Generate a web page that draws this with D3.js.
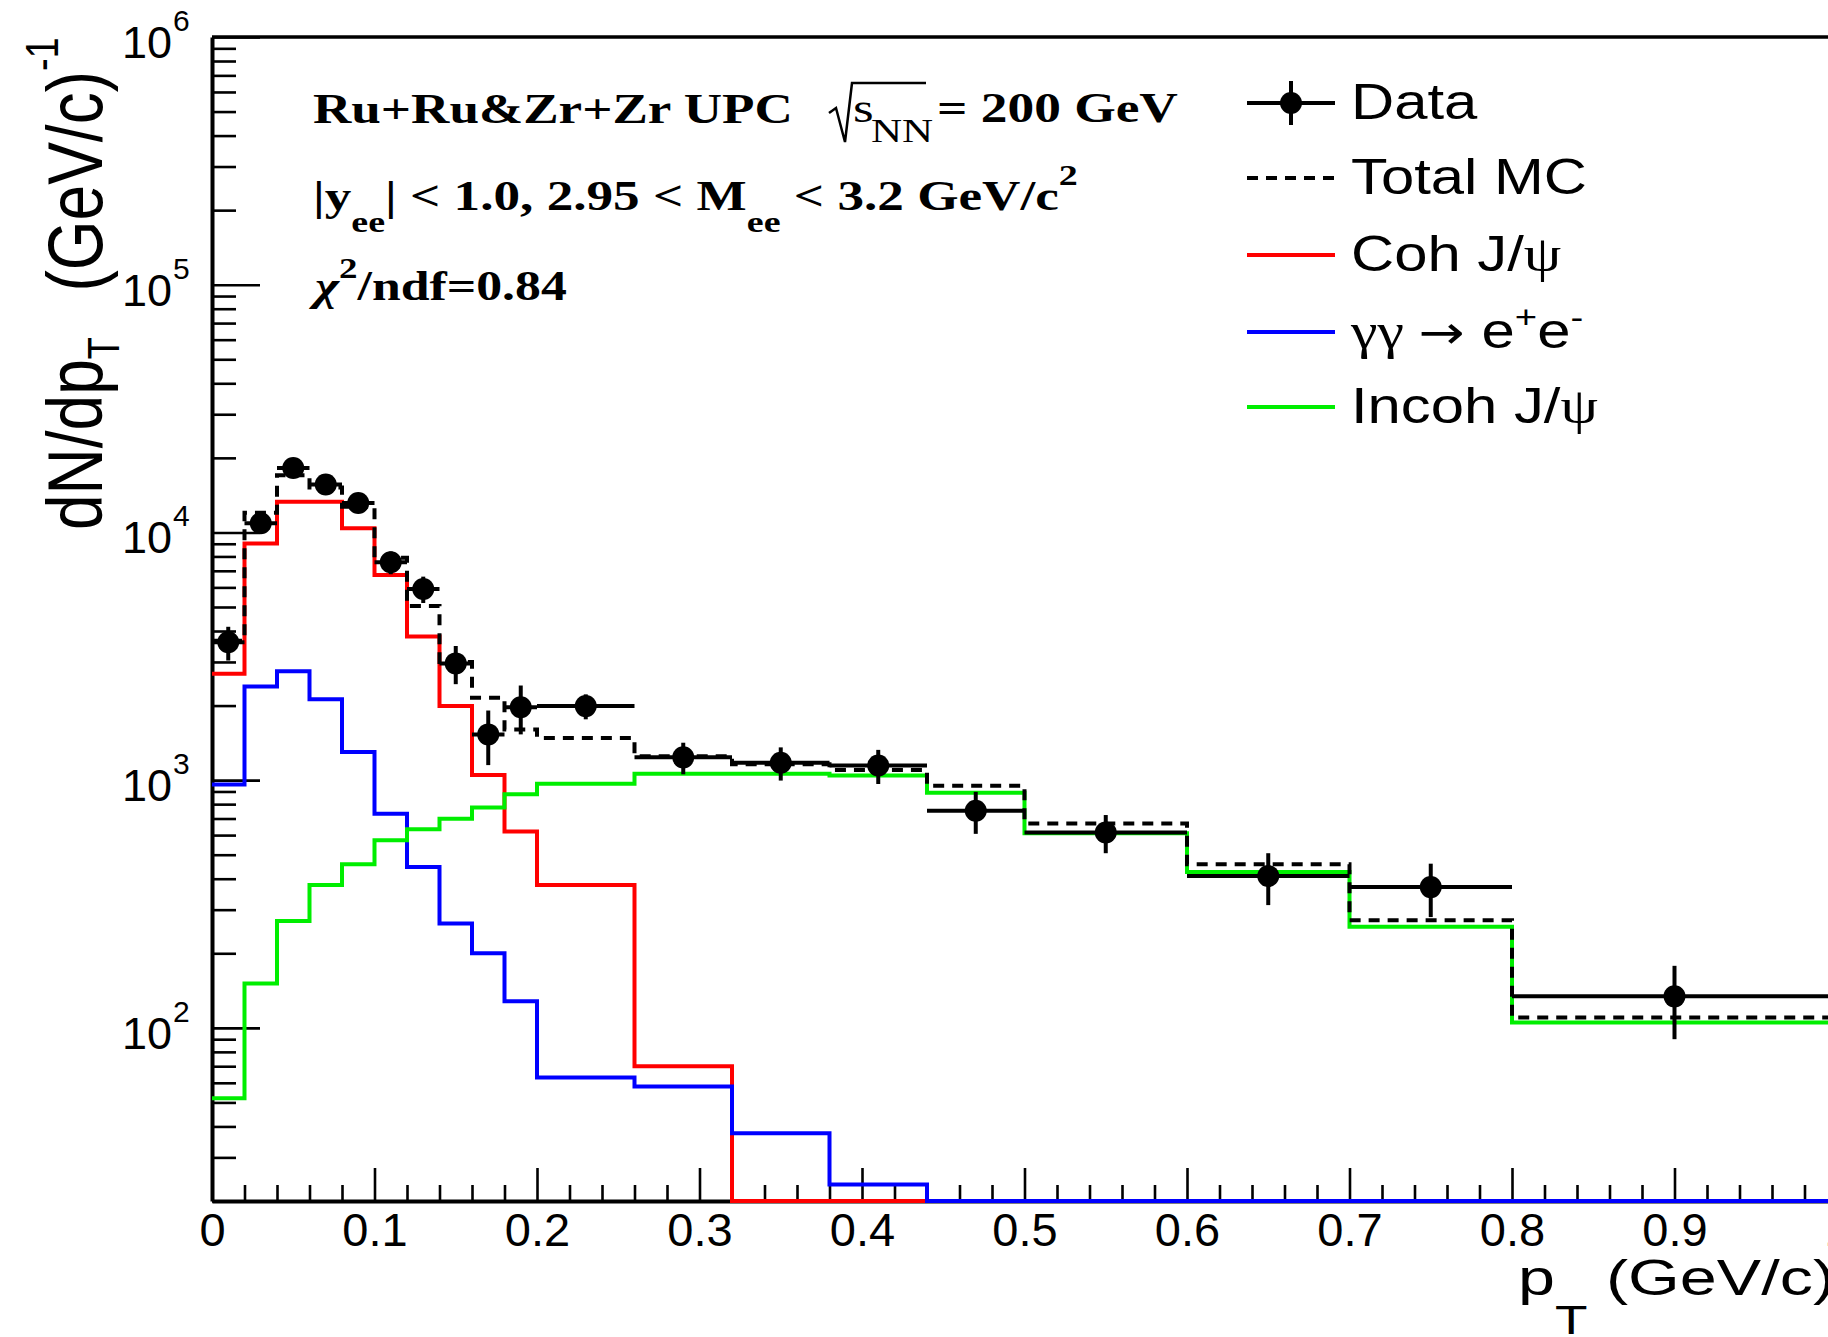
<!DOCTYPE html>
<html>
<head>
<meta charset="utf-8">
<script src="https://cdn.jsdelivr.net/npm/d3@7"></script>
<style>
  body { margin: 0; background: #fff; }
  svg { display: block; background: #fff; }
</style>
</head>
<body>
<svg id="chart" width="1828" height="1337"></svg>
<script>
// bin edges in pT (GeV/c)
var binEdges = [0, 0.02, 0.04, 0.06, 0.08, 0.1, 0.12, 0.14, 0.16, 0.18, 0.2,
                0.26, 0.32, 0.38, 0.44, 0.5, 0.6, 0.7, 0.8, 1.0];

// MC templates, one value per bin (0 = empty bin)
var cohJpsi    = [2690, 9020, 13300, 13300, 10400, 6730, 3800, 1990, 1050, 620,
                  377, 70, 0, 0, 0, 0, 0, 0, 0];
var gammaGamma = [960, 2390, 2750, 2120, 1300, 731, 446, 264, 200, 128,
                  63, 58, 37.5, 23.3, 0, 0, 0, 0, 0];
var incohJpsi  = [52, 151, 270, 377, 458, 572, 634, 699, 775, 877,
                  968, 1062, 1062, 1045, 890, 610, 426, 256, 105];
var totalMC    = [3650, 12000, 17000, 15200, 12700, 7900, 5050, 3000, 2150, 1600,
                  1480, 1250, 1160, 1100, 950, 668, 458, 272, 110];

// measured points
var dataValues = [3600, 10900, 18200, 15600, 13150, 7580, 5910, 2960, 1530, 1970,
                  1990, 1236, 1176, 1145, 752, 615, 410, 370, 134];
var dataErrors = [560, 950, 1250, 1150, 1050, 800, 720, 520, 380, 440,
                  230, 180, 180, 180, 145, 108, 97, 90, 44];

var xTickLabels = ["0", "0.1", "0.2", "0.3", "0.4", "0.5", "0.6", "0.7", "0.8", "0.9", "1"];
var yTickPowers = [2, 3, 4, 5, 6];

var SANS = "'Liberation Sans', Arial, Helvetica, sans-serif";
var SERIF = "'Liberation Serif', 'Times New Roman', serif";

var padL = 212, padR = 1837, padT = 37, padB = 1201;

var svg = d3.select("#chart");

var x = d3.scaleLinear().domain([0, 1]).range([padL, padR]);
var y = d3.scaleLog().domain([20, 1e6]).range([padB, padT]);

// ---------- axes ----------
var xMinor = d3.range(0, 51).map(function(i) { return i * 0.02; })
    .filter(function(v, i) { return i % 5 !== 0; });

svg.append("g")
    .attr("transform", "translate(0," + padB + ")")
    .call(d3.axisBottom(x).tickValues(xMinor).tickSize(-16).tickSizeOuter(0).tickFormat(""))
    .call(function(g) { g.select(".domain").remove(); });

var xAxis = svg.append("g")
    .attr("transform", "translate(0," + padB + ")")
    .call(d3.axisBottom(x)
        .tickValues(xTickLabels.map(Number))
        .tickSize(-33)
        .tickSizeOuter(0)
        .tickFormat(function(d, i) { return xTickLabels[i]; }));

xAxis.selectAll("text")
    .attr("y", 45)
    .attr("dy", null)
    .attr("font-family", SANS)
    .attr("font-size", 47)
    .attr("fill", "#000");

var yMinor = [];
for (var p = 1; p < 6; p++) {
    for (var m = 2; m <= 9; m++) {
        var v = m * Math.pow(10, p);
        if (v >= 20 && v <= 1e6) yMinor.push(v);
    }
}

svg.append("g")
    .attr("transform", "translate(" + padL + ",0)")
    .call(d3.axisLeft(y).tickValues(yMinor).tickSize(-24).tickSizeOuter(0).tickFormat(""))
    .call(function(g) { g.select(".domain").remove(); });

var yAxis = svg.append("g")
    .attr("transform", "translate(" + padL + ",0)")
    .call(d3.axisLeft(y)
        .tickValues(yTickPowers.map(function(p) { return Math.pow(10, p); }))
        .tickSize(-48)
        .tickSizeOuter(0)
        .tickFormat(""));

svg.selectAll(".tick line").attr("stroke", "#000").attr("stroke-width", 2.6);
svg.selectAll(".domain").attr("stroke", "#000").attr("stroke-width", 4);

// top frame
svg.append("line")
    .attr("x1", padL).attr("x2", padR)
    .attr("y1", padT).attr("y2", padT)
    .attr("stroke", "#000").attr("stroke-width", 3.5);

// y tick labels 10^n
var yLab = svg.append("g").attr("font-family", SANS).attr("fill", "#000");
yTickPowers.forEach(function(p) {
    var ty = y(Math.pow(10, p));
    yLab.append("text")
        .attr("x", 172).attr("y", ty + 21)
        .attr("text-anchor", "end")
        .attr("font-size", 45)
        .text("10");
    yLab.append("text")
        .attr("x", 173).attr("y", ty - 6)
        .attr("font-size", 30)
        .text(p);
});

// ---------- histograms ----------
svg.append("defs").append("clipPath").attr("id", "plotClip")
    .append("rect")
    .attr("x", padL).attr("y", padT - 2)
    .attr("width", padR - padL).attr("height", padB - padT + 5);

var stepLine = d3.line()
    .x(function(d) { return x(d[0]); })
    .y(function(d) { return y(Math.max(d[1], 20)); })
    .curve(d3.curveStepAfter);

function histPoints(vals) {
    var pts = vals.map(function(v, i) { return [binEdges[i], v]; });
    pts.push([binEdges[binEdges.length - 1], vals[vals.length - 1]]);
    return pts;
}

var plot = svg.append("g").attr("clip-path", "url(#plotClip)");

var coh = { vals: cohJpsi, color: "#ff0000", dash: null };
var gg = { vals: gammaGamma, color: "#0000ff", dash: null };
var inc = { vals: incohJpsi, color: "#00ee00", dash: null };
var tot = { vals: totalMC, color: "#000000", dash: "11,8" };

[coh, gg, inc, tot].forEach(function(s) {
    plot.append("path")
        .datum(histPoints(s.vals))
        .attr("d", stepLine)
        .attr("fill", "none")
        .attr("stroke", s.color)
        .attr("stroke-width", 4)
        .attr("stroke-dasharray", s.dash);
});

// ---------- data points ----------
var pts = dataValues.map(function(v, i) {
    return { lo: binEdges[i], hi: binEdges[i + 1], v: v, e: dataErrors[i] };
});

var dg = plot.append("g").attr("stroke", "#000").attr("stroke-width", 4);
dg.selectAll("line.h").data(pts).enter().append("line")
    .attr("x1", function(d) { return x(d.lo); })
    .attr("x2", function(d) { return x(d.hi); })
    .attr("y1", function(d) { return y(d.v); })
    .attr("y2", function(d) { return y(d.v); });
dg.selectAll("line.v").data(pts).enter().append("line")
    .attr("x1", function(d) { return x((d.lo + d.hi) / 2); })
    .attr("x2", function(d) { return x((d.lo + d.hi) / 2); })
    .attr("y1", function(d) { return y(d.v - d.e); })
    .attr("y2", function(d) { return y(d.v + d.e); });
plot.selectAll("circle.pt").data(pts).enter().append("circle")
    .attr("cx", function(d) { return x((d.lo + d.hi) / 2); })
    .attr("cy", function(d) { return y(d.v); })
    .attr("r", 11)
    .attr("fill", "#000");

// ---------- text helpers ----------
function fitWidth(sel, x0, target) {
    var w = sel.node().getBBox().width;
    var k = target / w;
    sel.attr("transform", "translate(" + x0 + ",0) scale(" + k + ",1)");
    return k;
}

// ---------- annotation (Times bold) ----------
var ann = svg.append("g").attr("font-family", SERIF).attr("fill", "#000");

var l1 = ann.append("text").attr("y", 123).attr("font-size", 42).attr("font-weight", "bold")
    .text("Ru+Ru&Zr+Zr UPC");
var kT = fitWidth(l1, 313, 480);

ann.append("path")
    .attr("d", "M829,113 L836,108 L845,142 L852,83 L926,83")
    .attr("fill", "none").attr("stroke", "#000").attr("stroke-width", 2.5);
ann.append("text").attr("y", 122).attr("font-size", 42)
    .attr("transform", "translate(853,0) scale(" + kT + ",1)").text("s");
ann.append("text").attr("y", 142).attr("font-size", 34)
    .attr("transform", "translate(871,0) scale(" + kT + ",1)").text("NN");
var l1b = ann.append("text").attr("y", 122).attr("font-size", 42).attr("font-weight", "bold")
    .text("= 200 GeV");
fitWidth(l1b, 937, 241);

var l2 = ann.append("text").attr("y", 210).attr("font-size", 42).attr("font-weight", "bold");
l2.append("tspan").text("|y");
l2.append("tspan").attr("font-size", 30).attr("dy", 22).text("ee");
l2.append("tspan").attr("dy", -22).text("| < 1.0, 2.95 < M");
l2.append("tspan").attr("font-size", 30).attr("dy", 22).text("ee");
l2.append("tspan").attr("dy", -22).text(" < 3.2 GeV/c");
l2.append("tspan").attr("font-size", 30).attr("dy", -25).text("2");
fitWidth(l2, 313, 765);

var l3 = ann.append("text").attr("y", 300).attr("font-size", 42).attr("font-weight", "bold");
l3.append("tspan").attr("font-style", "italic").text("\u03C7");
l3.append("tspan").attr("font-size", 30).attr("dy", -22).text("2");
l3.append("tspan").attr("dy", 22).text("/ndf=0.84");
fitWidth(l3, 315, 258);

// ---------- legend ----------
var legX1 = 1247, legX2 = 1335, legTextX = 1351;
var legY = [103, 178, 255, 332, 407];
var leg = svg.append("g");

leg.append("line").attr("x1", legX1).attr("x2", legX2).attr("y1", legY[0]).attr("y2", legY[0])
    .attr("stroke", "#000").attr("stroke-width", 4);
leg.append("line").attr("x1", (legX1 + legX2) / 2).attr("x2", (legX1 + legX2) / 2)
    .attr("y1", legY[0] - 22).attr("y2", legY[0] + 22)
    .attr("stroke", "#000").attr("stroke-width", 4);
leg.append("circle").attr("cx", (legX1 + legX2) / 2).attr("cy", legY[0]).attr("r", 11).attr("fill", "#000");

[tot, coh, gg, inc].forEach(function(s, i) {
    leg.append("line").attr("x1", legX1).attr("x2", legX2)
        .attr("y1", legY[i + 1]).attr("y2", legY[i + 1])
        .attr("stroke", s.color).attr("stroke-width", 4)
        .attr("stroke-dasharray", s.dash);
});

var legText = leg.append("g").attr("font-family", SANS).attr("font-size", 50).attr("fill", "#000");
var tTotal = legText.append("text").attr("y", legY[1] + 16).text("Total MC");
var kL = fitWidth(tTotal, legTextX, 236);
function legLabel(i) {
    return legText.append("text").attr("y", legY[i] + 16)
        .attr("transform", "translate(" + legTextX + ",0) scale(" + kL + ",1)");
}
legLabel(0).text("Data");
var tCoh = legLabel(2);
tCoh.append("tspan").text("Coh J/");
tCoh.append("tspan").attr("font-family", SERIF).text("\u03C8");
var tGG = legLabel(3);
tGG.append("tspan").attr("font-family", SERIF).text("\u03B3\u03B3 ");
tGG.append("tspan").attr("font-family", "'DejaVu Sans', sans-serif").attr("font-size", 46).text("\u2192");
tGG.append("tspan").text(" e");
tGG.append("tspan").attr("font-size", 32).attr("dy", -20).text("+");
tGG.append("tspan").attr("dy", 20).text("e");
tGG.append("tspan").attr("font-size", 32).attr("dy", -20).text("-");
var tInc = legLabel(4);
tInc.append("tspan").text("Incoh J/");
tInc.append("tspan").attr("font-family", SERIF).text("\u03C8");

// ---------- axis titles ----------
var yt = svg.append("text")
    .attr("font-family", SANS).attr("font-size", 64).attr("fill", "#000")
    .attr("transform", "translate(102,530) rotate(-90) scale(1,1.22)");
yt.append("tspan").text("dN/dp");
yt.append("tspan").attr("font-size", 36).attr("dy", 14).text("T");
yt.append("tspan").attr("dy", -14).attr("dx", 28).text(" (GeV/c)");
yt.append("tspan").attr("font-size", 38).attr("dy", -36).text("-1");

var xt = svg.append("text")
    .attr("font-family", SANS).attr("font-size", 50).attr("fill", "#000")
    .attr("y", 1295)
    .attr("transform", "translate(1518,0) scale(1.33,1)");
xt.append("tspan").text("p");
xt.append("tspan").attr("font-size", 40).attr("dy", 39).text("T");
xt.append("tspan").attr("dy", -39).text(" (GeV/c)");
</script>
</body>
</html>
